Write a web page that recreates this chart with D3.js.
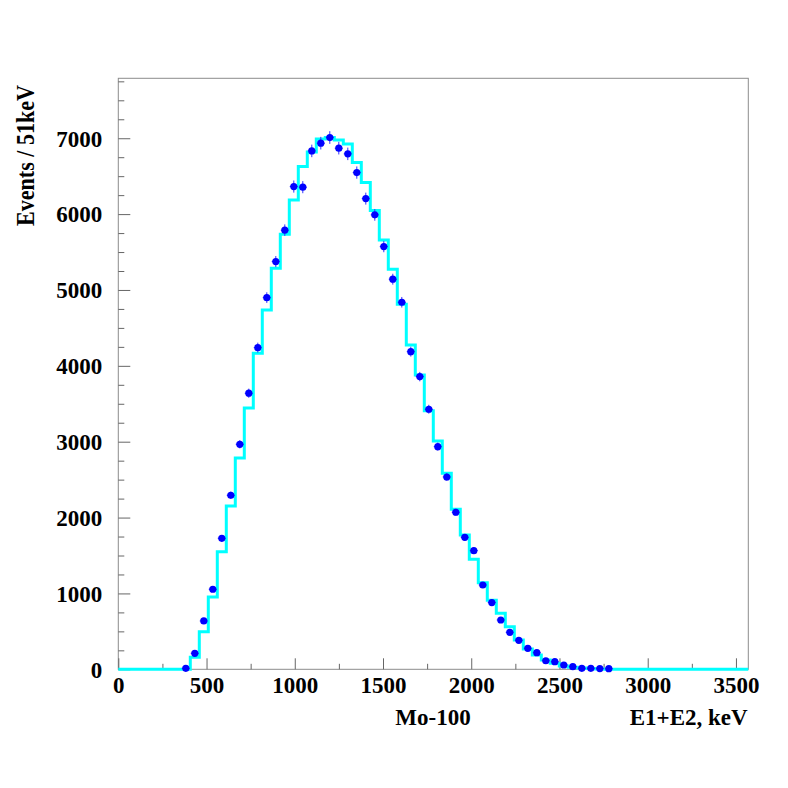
<!DOCTYPE html>
<html>
<head>
<meta charset="utf-8">
<script src="https://cdn.jsdelivr.net/npm/d3@7"></script>
<style>
  html, body { margin: 0; padding: 0; background: #fff; }
  svg text { font-family: "Liberation Serif", "Times New Roman", serif; font-weight: bold; fill: #000; }
</style>
</head>
<body>
<div id="chart"></div>
<script>
// Bin layout: 70 bins of 51 keV
const binWidth = 51;
const binCount = 70;

// Monte Carlo histogram (cyan), one value per bin
const mcCounts = [
  0, 0, 0, 0, 0, 0, 0, 0, 160, 496,
  953, 1550, 2153, 2786, 3445, 4166, 4737, 5287, 5735, 6187,
  6626, 6820, 6990, 7010, 6978, 6925, 6679, 6415, 6046, 5660,
  5274, 4812, 4276, 3880, 3409, 3010, 2584, 2109, 1771, 1450,
  1142, 910, 738, 562, 386, 268, 189, 123, 79, 44,
  28, 16, 9, 5, 2, 0, 0, 0, 0, 0,
  0, 0, 0, 0, 0, 0, 0, 0, 0, 0
];

// Measured events (blue points), one value per bin
const dataCounts = [
  0, 0, 0, 0, 0, 0, 0, 13, 211, 637,
  1055, 1727, 2294, 2966, 3639, 4240, 4899, 5374, 5788, 6363,
  6355, 6833, 6935, 7009, 6869, 6794, 6547, 6204, 5990, 5572,
  5142, 4838, 4187, 3858, 3428, 2935, 2535, 2070, 1740, 1564,
  1111, 880, 650, 488, 382, 277, 219, 113, 100, 57,
  35, 13, 13, 10, 8, 0, 0, 0, 0, 0,
  0, 0, 0, 0, 0, 0, 0, 0, 0, 0
];

const xMajorTicks = [0, 500, 1000, 1500, 2000, 2500, 3000, 3500];
const yMajorTicks = [0, 1000, 2000, 3000, 4000, 5000, 6000, 7000];

const yTitle = 'Events / 51keV';
const xTitle = 'E1+E2, keV';
const sampleLabel = 'Mo-100';

class SpectrumPlot {

  constructor(_config) {
    this.config = {
      parentElement: _config.parentElement,
      containerWidth: 788,
      containerHeight: 788,
      margin: {top: 78.3, right: 39.7, bottom: 118.7, left: 118.3},
      xMax: binWidth * binCount,
      yMax: 7790
    };
    this.initVis();
  }

  initVis() {
    let vis = this;

    vis.width = vis.config.containerWidth - vis.config.margin.left - vis.config.margin.right;
    vis.height = vis.config.containerHeight - vis.config.margin.top - vis.config.margin.bottom;

    vis.svg = d3.select(vis.config.parentElement).append('svg')
        .attr('width', vis.config.containerWidth)
        .attr('height', vis.config.containerHeight);

    vis.chart = vis.svg.append('g')
        .attr('transform', `translate(${vis.config.margin.left},${vis.config.margin.top})`);

    vis.xScale = d3.scaleLinear().domain([0, vis.config.xMax]).range([0, vis.width]);
    vis.yScale = d3.scaleLinear().domain([0, vis.config.yMax]).range([vis.height, 0]);

    // one object per bin: edges, MC content, measured content
    vis.bins = mcCounts.map((v, i) => ({
      x0: i * binWidth,
      x1: (i + 1) * binWidth,
      mc: v,
      data: dataCounts[i]
    }));

    vis.renderVis();
  }

  renderVis() {
    let vis = this;
    const x = vis.xScale, y = vis.yScale;

    // frame
    vis.chart.append('rect')
        .attr('width', vis.width)
        .attr('height', vis.height)
        .attr('fill', 'none')
        .attr('stroke', '#8c8c8c')
        .attr('stroke-width', 1);

    // minor ticks every 250, major ticks every 500 (x) / 1000 (y)
    const xMinor = d3.range(0, vis.config.xMax, 250).filter(v => !xMajorTicks.includes(v));
    const yMinor = d3.range(0, vis.config.yMax, 250).filter(v => !yMajorTicks.includes(v));
    const fmt = d3.format('d');

    const xAxisMinor = d3.axisBottom(x).tickValues(xMinor).tickSizeInner(-5.5).tickSizeOuter(0).tickFormat('');
    const xAxisMajor = d3.axisBottom(x).tickValues(xMajorTicks).tickSizeInner(-11).tickSizeOuter(0).tickPadding(0).tickFormat(fmt);
    const yAxisMinor = d3.axisLeft(y).tickValues(yMinor).tickSizeInner(-6).tickSizeOuter(0).tickFormat('');
    const yAxisMajor = d3.axisLeft(y).tickValues(yMajorTicks).tickSizeInner(-12).tickSizeOuter(0).tickPadding(16).tickFormat(fmt);

    [xAxisMinor, xAxisMajor].forEach(ax => {
      vis.chart.append('g')
          .attr('class', 'x-axis')
          .attr('transform', `translate(0,${vis.height})`)
          .call(ax);
    });
    [yAxisMinor, yAxisMajor].forEach(ax => {
      vis.chart.append('g')
          .attr('class', 'y-axis')
          .call(ax);
    });

    vis.chart.selectAll('.domain').remove();
    vis.chart.selectAll('.tick line').attr('stroke', '#666');

    vis.chart.selectAll('.x-axis .tick text')
        .attr('y', 24)
        .attr('dy', 0)
        .style('font-size', '23px');

    vis.chart.selectAll('.y-axis .tick text')
        .style('font-size', '23px')
        .attr('dy', '0.34em');

    // MC histogram as a step outline
    const stepPoints = [];
    vis.bins.forEach(b => {
      stepPoints.push([b.x0, b.mc]);
      stepPoints.push([b.x1, b.mc]);
    });
    const line = d3.line().x(d => x(d[0])).y(d => y(d[1]));
    vis.chart.append('path')
        .datum(stepPoints)
        .attr('class', 'mc-hist')
        .attr('d', line)
        .attr('fill', 'none')
        .attr('stroke', '#00ffff')
        .attr('stroke-width', 3)
        .attr('stroke-linejoin', 'miter');

    // data points with sqrt(N) error bars
    const pts = vis.bins.filter(b => b.data > 0);
    const pg = vis.chart.append('g').attr('class', 'data-points');

    pg.selectAll('.err-y')
        .data(pts)
      .join('line')
        .attr('class', 'err-y')
        .attr('x1', d => x((d.x0 + d.x1) / 2))
        .attr('x2', d => x((d.x0 + d.x1) / 2))
        .attr('y1', d => y(Math.max(0, d.data - Math.sqrt(d.data))))
        .attr('y2', d => y(d.data + Math.sqrt(d.data)))
        .attr('stroke', '#3333ff')
        .attr('stroke-width', 1);

    pg.selectAll('.err-x')
        .data(pts)
      .join('line')
        .attr('class', 'err-x')
        .attr('x1', d => x(d.x0 + 0.05 * binWidth))
        .attr('x2', d => x(d.x1 - 0.05 * binWidth))
        .attr('y1', d => y(d.data))
        .attr('y2', d => y(d.data))
        .attr('stroke', '#3333ff')
        .attr('stroke-width', 1);

    pg.selectAll('.point')
        .data(pts)
      .join('circle')
        .attr('class', 'point')
        .attr('cx', d => x((d.x0 + d.x1) / 2))
        .attr('cy', d => y(d.data))
        .attr('r', 3.6)
        .attr('fill', '#0000ff');

    // titles
    vis.svg.append('text')
        .attr('transform', `translate(34,155.5) rotate(-90)`)
        .attr('text-anchor', 'middle')
        .attr('textLength', 141)
        .attr('lengthAdjust', 'spacingAndGlyphs')
        .style('font-size', '25px')
        .text(yTitle);

    vis.svg.append('text')
        .attr('x', 433)
        .attr('y', 725)
        .attr('text-anchor', 'middle')
        .style('font-size', '23px')
        .text(sampleLabel);

    vis.svg.append('text')
        .attr('x', 747.7)
        .attr('y', 725)
        .attr('text-anchor', 'end')
        .style('font-size', '23px')
        .text(xTitle);
  }
}

new SpectrumPlot({parentElement: '#chart'});
</script>
</body>
</html>
